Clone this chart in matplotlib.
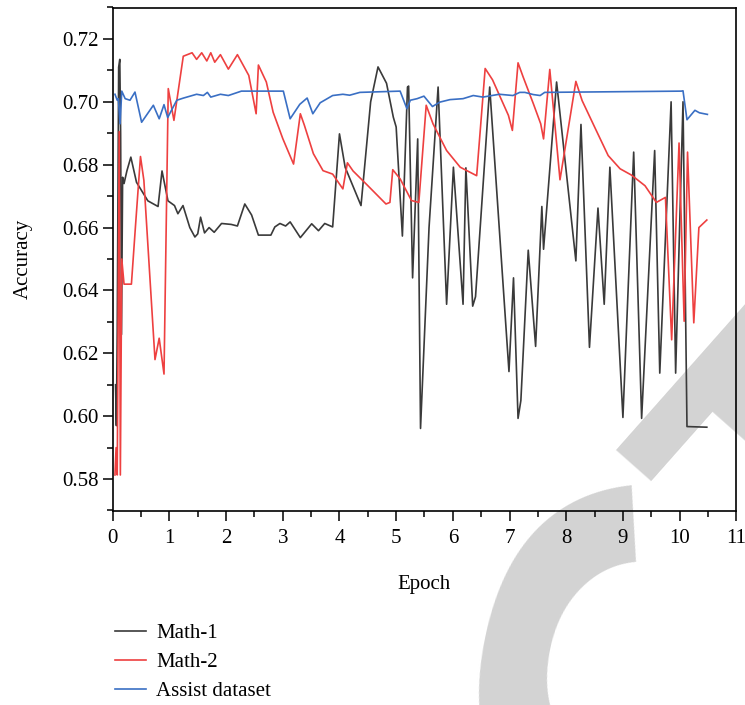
import matplotlib
matplotlib.use("Agg")
import matplotlib.pyplot as plt
from matplotlib.ticker import MultipleLocator

plt.rcParams['font.family'] = ['Liberation Serif', 'DejaVu Serif']

# ---------------- data ----------------
math1_x = [0.05, 0.065, 0.08, 0.105, 0.125, 0.14, 0.155, 0.175, 0.20, 0.25, 0.32, 0.42, 0.62, 0.80,
           0.87, 0.975, 1.09, 1.15, 1.24, 1.36, 1.45, 1.50, 1.55, 1.62, 1.70, 1.79, 1.92, 2.09, 2.20,
           2.33, 2.45, 2.57, 2.79, 2.86, 2.95, 3.05, 3.13, 3.31, 3.51, 3.63, 3.74, 3.88, 4.00, 4.10,
           4.38, 4.55, 4.68, 4.83, 4.95, 5.00, 5.11, 5.20, 5.22, 5.29, 5.38, 5.43, 5.58, 5.74, 5.89,
           6.01, 6.18, 6.23, 6.35, 6.40, 6.65, 6.99, 7.07, 7.15, 7.20, 7.33, 7.46, 7.57, 7.60, 7.83,
           8.17, 8.26, 8.41, 8.56, 8.67, 8.77, 9.00, 9.19, 9.33, 9.56, 9.65, 9.85, 9.93, 10.06, 10.13,
           10.48]
math1_y = [0.610, 0.597, 0.627, 0.711, 0.7135, 0.690, 0.626, 0.676, 0.674, 0.678, 0.6824, 0.6744,
           0.6685, 0.6667, 0.678, 0.6685, 0.667, 0.6644, 0.667, 0.660, 0.657, 0.658, 0.6633, 0.6583,
           0.6600, 0.6585, 0.6613, 0.661, 0.6605, 0.6675, 0.664, 0.6576, 0.6576, 0.6602, 0.6613,
           0.6605, 0.6618, 0.6568, 0.6612, 0.659, 0.6613, 0.6602, 0.6898, 0.6792, 0.667, 0.700,
           0.7111, 0.7059, 0.6951, 0.692, 0.6573, 0.7047, 0.705, 0.644, 0.6882, 0.5961, 0.660,
           0.7047, 0.6356, 0.6792, 0.6356, 0.679, 0.635, 0.638, 0.7047, 0.6142, 0.644, 0.5993,
           0.605, 0.6528, 0.6222, 0.6667, 0.6531, 0.7063, 0.6494, 0.6928, 0.6219, 0.6662, 0.6356,
           0.6792, 0.5996, 0.684, 0.5993, 0.6845, 0.6137, 0.700, 0.6137, 0.700, 0.5967, 0.5965]

math2_x = [0.04, 0.06, 0.08, 0.115, 0.135, 0.16, 0.20, 0.33, 0.40, 0.49, 0.55, 0.746, 0.82, 0.905,
           0.98, 1.08, 1.245, 1.40, 1.48, 1.57, 1.66, 1.73, 1.80, 1.90, 2.04, 2.20, 2.40, 2.53, 2.57,
           2.71, 2.83, 3.00, 3.19, 3.31, 3.38, 3.54, 3.71, 3.88, 4.06, 4.14, 4.24, 4.48, 4.82, 4.89,
           4.94, 5.07, 5.27, 5.40, 5.53, 5.65, 5.89, 6.13, 6.42, 6.57, 6.70, 6.98, 7.05, 7.15, 7.24,
           7.42, 7.55, 7.60, 7.71, 7.89, 8.17, 8.28, 8.50, 8.74, 8.95, 9.15, 9.39, 9.59, 9.75, 9.86,
           9.99, 10.08, 10.14, 10.25, 10.34, 10.48]
math2_y = [0.5813, 0.590, 0.5813, 0.6905, 0.5813, 0.650, 0.642, 0.642, 0.660, 0.6826, 0.675, 0.618,
           0.6248, 0.6134, 0.7042, 0.6941, 0.7145, 0.7156, 0.7135, 0.7156, 0.713, 0.7156, 0.7126,
           0.715, 0.7104, 0.715, 0.7084, 0.6962, 0.7117, 0.7063, 0.6967, 0.6883, 0.6802, 0.6962,
           0.6926, 0.6835, 0.6781, 0.677, 0.6723, 0.6806, 0.678, 0.6737, 0.6675, 0.668, 0.6784,
           0.6755, 0.6686, 0.668, 0.6989, 0.693, 0.6845, 0.6792, 0.6765, 0.7106, 0.707, 0.6957,
           0.6909, 0.7124, 0.7079, 0.6994, 0.693, 0.6882, 0.7103, 0.6752, 0.7065, 0.7004, 0.692,
           0.6829, 0.6787, 0.6767, 0.6733, 0.668, 0.6696, 0.6243, 0.6869, 0.6302, 0.684, 0.6297,
           0.660, 0.6624]

assist_x = [0.04, 0.08, 0.10, 0.13, 0.16, 0.22, 0.305, 0.393, 0.51, 0.717, 0.82, 0.905, 0.97, 1.13,
            1.25, 1.48, 1.60, 1.67, 1.73, 1.90, 2.04, 2.27, 3.01, 3.13, 3.30, 3.43, 3.53, 3.66, 3.88,
            4.06, 4.18, 4.36, 5.07, 5.19, 5.25, 5.37, 5.49, 5.64, 5.77, 5.95, 6.18, 6.36, 6.53, 6.82,
            7.06, 7.18, 7.27, 7.42, 7.54, 7.62, 10.03, 10.06, 10.13, 10.27, 10.35, 10.49]
assist_y = [0.7024, 0.7005, 0.701, 0.693, 0.7034, 0.701, 0.7005, 0.7031, 0.6935, 0.6989, 0.6946,
            0.6991, 0.695, 0.7005, 0.7012, 0.7024, 0.702, 0.703, 0.7015, 0.7024, 0.702, 0.7034,
            0.7034, 0.6946, 0.6992, 0.7012, 0.6962, 0.6997, 0.702, 0.7024, 0.7021, 0.703, 0.7034,
            0.6978, 0.7005, 0.701, 0.7018, 0.6985, 0.6999, 0.7007, 0.701, 0.702, 0.7015, 0.7024,
            0.702, 0.703, 0.703, 0.7023, 0.702, 0.703, 0.7034, 0.7035, 0.6943, 0.6973, 0.6965, 0.696]

labels = ["Math-1", "Math-2", "Assist dataset"]
colors = ["#3a3a3a", "#ee4040", "#3a6fc4"]

x_ticks = list(range(0, 12))
y_ticks = [0.58, 0.60, 0.62, 0.64, 0.66, 0.68, 0.70, 0.72]

# ---------------- figure ----------------
W, H = 745, 705
fig = plt.figure(figsize=(W / 100, H / 100), dpi=100)

# watermark letters (partially visible "C" and "T" of a diagonal RETRACTED stamp)
wm = dict(color="#d3d3d3", family="Liberation Sans", rotation_mode="anchor",
          ha="center", va="baseline", zorder=0)
fig.text(863 / W, 1 - 709 / H, "C", fontsize=420, fontweight="bold", rotation=78, **wm)
fig.text(912 / W, 1 - 546 / H, "T", fontsize=300, fontweight="bold", rotation=48.5, **wm)

ax = fig.add_axes([112.7 / W, 1 - 510.5 / H, (736.3 - 112.7) / W, (510.5 - 7.5) / H])
ax.set_facecolor("none")
ax.set_zorder(2)

for xs, ys, lab, col in zip([math1_x, math2_x, assist_x], [math1_y, math2_y, assist_y], labels, colors):
    ax.plot(xs, ys, color=col, lw=1.2, label=lab)

ax.set_xlim(0, 11)
ax.set_ylim(0.57, 0.73)
ax.set_xticks(x_ticks)
ax.set_yticks(y_ticks)
ax.set_yticklabels([f"{v:.2f}" for v in y_ticks])
ax.xaxis.set_minor_locator(MultipleLocator(0.5))
ax.yaxis.set_minor_locator(MultipleLocator(0.01))
ax.tick_params(which="major", direction="out", length=7, width=1.1, labelsize=15, pad=3)
ax.tick_params(axis="x", which="major", pad=6)
ax.tick_params(which="minor", direction="out", length=4, width=1.1)
for s in ax.spines.values():
    s.set_linewidth(1.2)

ax.set_xlabel("Epoch", fontsize=15, labelpad=20)
ax.set_ylabel("Accuracy", fontsize=15, labelpad=21)

handles, labs = ax.get_legend_handles_labels()
fig.legend(handles, labs, loc="upper left", bbox_to_anchor=(96 / W, 1 - 605 / H),
           frameon=False, fontsize=15, handlelength=1.5, handletextpad=0.5, labelspacing=0.45)

fig.savefig("out.png", dpi=100)
